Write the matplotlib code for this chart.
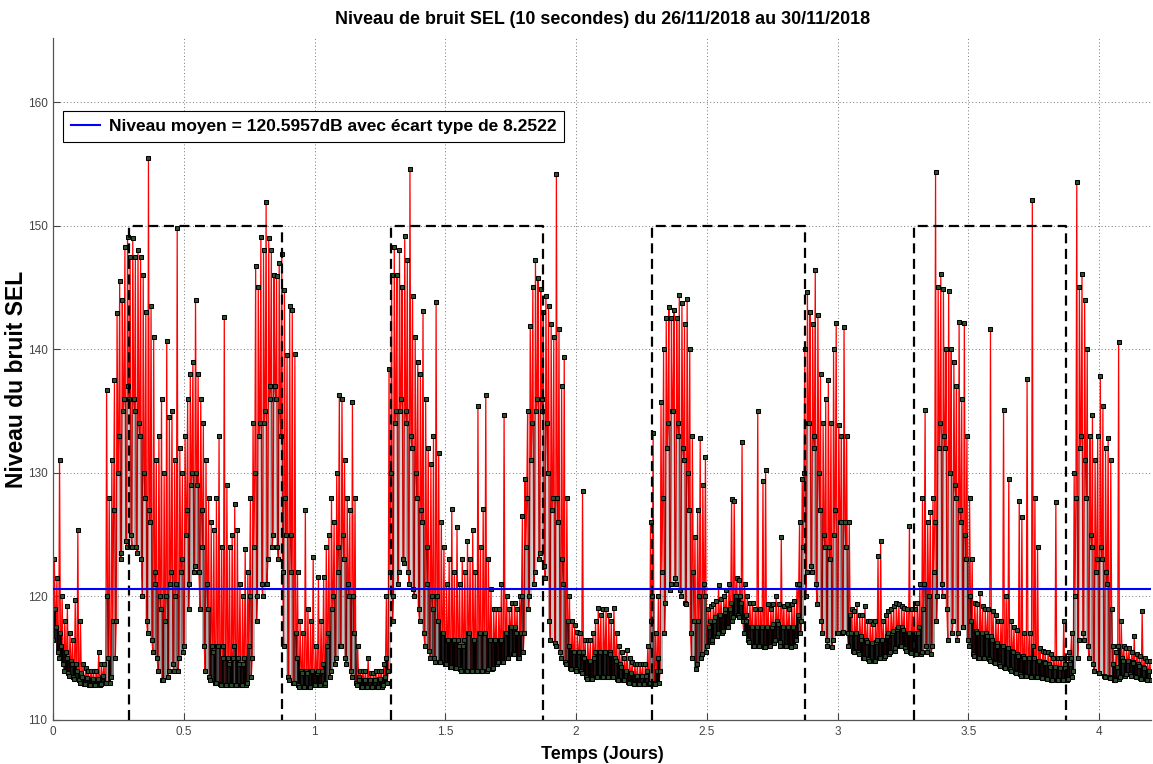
import numpy as np
import matplotlib
matplotlib.use("Agg")
import matplotlib.pyplot as plt
from matplotlib import font_manager
from matplotlib.collections import LineCollection

# ---------------- data (0.01-day bins) ----------------
bin_width_days = 0.01
# per bin: lowest, typical and highest SEL level (dB)
sel_low = [
    116.5,115.5,115,114.5,114,113.8,113.6,113.5,113.3,113.2,
    113,112.9,112.9,112.8,112.8,112.8,112.8,112.8,112.9,113,
    113,113,113.5,115,118,123,123.5,124.5,124,125,
    124,124,123.5,123,120,118,117,116.5,115.5,115,
    114,113.2,113.2,113.5,114,114.5,114,114,115,115.5,
    116,119,121,122,122.5,122,119,116,114,113.5,
    113.2,113,113,112.9,112.8,112.8,112.8,112.8,112.8,112.8,
    112.8,112.8,112.8,112.8,113,113.5,115,118,120,121,
    120,121,123,124,125,124,123,122,116,113.5,
    113.2,113,113,112.8,112.7,112.7,112.7,112.7,112.7,112.8,
    112.8,112.8,112.8,112.8,113,113.5,114,114.5,115,116,
    116,115,114.5,114,113.5,113,112.8,112.7,112.7,112.7,
    112.7,112.7,112.7,112.7,112.7,112.7,112.8,113,114,118,
    120,121,122,123,122.7,122,121,120.6,120,119,
    118,117,116,115.6,115,115,114.7,114.7,114.7,114.5,
    114.5,114.3,114.3,114.2,114.2,114.1,114,114,114,114,
    114,114,114,114,114,114,114.1,114.1,114.2,114.5,
    114.7,114.7,114.7,115,115,115.3,115.3,115,115,115.5,
    117,119,120,121,122,123,123.5,122.5,121.5,118,
    116.5,116.2,116,115.5,115,114.7,114.5,114.2,114.1,114.1,
    114,114,113.8,113.5,113.3,113.3,113.3,113.5,113.5,113.5,
    113.5,113.5,113.5,113.5,113.5,113.3,113.2,113.2,113.2,113.1,
    113,113,112.9,112.9,112.9,112.9,112.9,112.9,113,113,
    112.9,113,114,117,119.5,120.5,121,121.5,121,120.5,
    120,119.5,119.4,117,115,114.1,114.5,115,115.3,115.5,
    116,116.3,116.5,116.8,117,117,117.2,117.5,117.5,118,
    118.3,118.5,118.3,118,117,116.5,116.3,116,116,116,
    116,115.9,115.9,116,116,116.2,116.5,116.3,116,116,
    116,116,115.9,116,116.5,117,118,120,122,122.5,
    122,121,119.4,118,117,116.5,116,115.9,116.5,117,
    117,117,117.1,117,116,115.6,115.5,115.5,115.3,115,
    115,114.9,114.8,114.8,114.8,115,115,115,115.2,115.3,
    115.5,115.6,115.8,116,116,115.8,115.6,115.5,115.4,115.3,
    115.3,115.3,115.5,116,115.5,115.3,116,118,120,121,
    120,119,116.5,117,118,116.5,117,117.5,117.5,116.5,
    116,115.3,115.2,115,115,115,115,114.9,114.8,114.7,
    114.6,114.5,114.4,114.3,114.2,114.1,114,113.9,113.8,113.7,
    113.6,113.6,113.6,113.6,113.5,113.5,113.5,113.5,113.4,113.4,
    113.3,113.2,113.2,113.2,113.2,113.2,113.2,113.2,113.3,113.5,
    114,115,116.5,117,116.5,116,115,114.5,114,113.8,
    113.8,113.6,113.5,113.5,113.4,113.2,113.2,113.3,113.5,113.6,
    113.7,113.7,113.6,113.6,113.5,113.4,113.3,113.3,113.2,113.2,
]
sel_mid = [
    119,117.5,117,116,115.5,115,114.8,114.5,114.5,114,
    113.8,113.5,113.4,113.4,113.3,113.3,113.2,113.3,113.5,113.6,
    120,115,118,127,130,133,135,136,137,136,
    136,135,134,133,130,128,127,126,122,121,
    120,119,118,120,121,122,120,121,122,123,
    125,127,129,130,130,129,127,124,121,119,
    116,115.5,116,116,115,116,115,114.5,115,116,
    115,114.5,114.5,115,116,120,124,130,133,134,
    134,135,136,137,137,136,135,133,128,125,
    125,122,117,115,114,113.8,114,113.8,114,114,
    113.8,114,114,114.5,116,117,119,120,122,124,
    125,123,121,120,120,117,113.5,113.2,113.2,113.2,
    113.2,113.2,113.2,113.2,113.3,113.3,113.5,115,122,130,
    134,135,135,136,135,134,133,132,130,128,
    127,126,124,121,120,119,120,118,117,117,
    116.5,116.5,116.5,116.5,116.5,116,116,116.5,117,117,
    116.5,116.5,117,117,117,117,116.5,116.5,116.5,116.5,
    116.5,116.5,117,117,117.5,117.5,117.5,117,117,120,
    124,128,131,134,135,136,136,135,134,130,
    127,128,128,126,123,121,118,116,115.5,115.5,
    115.5,115.5,115.5,115,114.8,114.8,115,115.5,115.5,115.5,
    115.5,115.5,115.5,115.3,115,114.8,114.5,114.3,114,114,
    113.8,113.8,113.6,113.6,113.6,113.6,113.6,114,118,120,
    114,115,122,128,132,134,135,135,134,133,
    132,131,130,127,122,118,118,120,121,120,
    117.5,118,118,118.3,118.5,118.5,118.7,119,119,119.5,
    120,120,120,119.5,118.5,118,117.5,117.5,117.5,117.5,
    117.5,117.5,117.5,117.5,117.5,117.8,118,117.8,117.5,117.5,
    117.5,117.5,117.5,117.5,118.5,121,124,130,134,134,
    133,132,130,127,125,124,124,123,125,127,
    126,126,126,124,118.5,117,117,117,116.8,116.5,
    116.5,116.3,116.2,116.2,116.3,116.5,116.5,116.5,116.8,117,
    117,117.2,117.4,117.5,117.5,117.3,117,117,117,117,
    117,117.5,119,121,120,120,122,126,132,134,
    133,132,130,130,129,128,127,126,125,123,
    120,118,117.2,117,117,117,117,116.8,116.8,116.5,
    116.2,116,116,116,115.8,115.8,115.6,115.5,115.3,115.2,
    115.2,115,115,115,116,115,114.8,114.8,114.7,114.6,
    114.5,114.3,114.3,114.3,114.2,114.2,114.5,114.2,114.5,115,
    120,128,132,133,131,128,125,124,122,123,
    124,123,122,121,119,114.5,114.3,116,115,114.8,
    114.8,114.8,114.7,114.6,114.5,114.4,114.3,114.2,114,114,
]
sel_high = [
    123,121.5,131,120,118,119.2,117,116.5,119.7,125.4,
    118,114.5,114.2,114,114,114,114,115.5,114.5,114.5,
    136.7,128,131,137.5,142.9,145.5,144,148.3,149.1,147.5,
    149,147.5,148,147.5,146,143,155.5,143.5,141,131,
    133,136,130,140.7,134.5,135,131,149.8,132,130,
    133,136,138,139,144,138,136,134,131,128,
    126,125.4,128,133,124,142.6,129,124,125,127.5,
    125.4,121,120,123.8,122,128,134,146.7,145,149.1,
    148,151.9,149,148,146,145.9,147,147.7,144.8,139.5,
    143.5,143.2,139.6,122,118,117,127,119,118,123.2,
    116,121.6,118,121.6,124,125,128,126,130,136.3,
    136,131,128,127,135.7,128,116,114,114,114,
    115,113.8,113.8,114,114,114,114.5,120,138.4,146,
    148.3,146,148,145,149.2,147.2,154.6,144.3,141,139,
    138,143.1,136,132,130.7,133,143.8,131.6,126,124,
    121,123,127.1,122,125.6,121,123,122,124.5,123,
    125.4,122,135.4,124,127.1,136.3,123,120.6,119,119,
    119,121,134.7,120,119,119.5,119.5,119,120,126.5,
    129.5,135,141.9,145,147.2,145.8,144.9,143,144.3,143.5,
    142,141,154.2,141.6,137,139.4,128,120,118,117.7,
    117.1,117,128.5,116.5,116.5,116.5,117,118,119.1,118.5,
    119,119,118.5,118,119.1,117,116,115.5,115,115.7,
    115,114.7,114.5,114.5,114.5,114.5,114.5,116,126,133.2,
    117,120,135.7,140,142.5,143.4,142.5,143.2,142.5,144.4,
    143.7,142,144.1,140,133,124.8,127,132.8,129,131.3,
    119,119.2,119.4,119.6,120.9,119.8,120,120.5,121,127.9,
    127.7,121.5,121.3,132.5,121,120,119.5,119.5,119,135,
    119,129.3,130.2,119.4,119,119.4,120,119.4,124.8,119.2,
    119.4,119,119.4,119.6,121,126,129.5,140,144.6,143,
    142,146.4,142.8,138,134,136,137.5,134,140,142.1,
    133.9,133,141.8,133,126,119,118.8,119.4,118.5,118.5,
    119.2,118,118,117.8,118,123.3,124.5,118,118.5,118.8,
    119,119.2,119.5,119.4,119.2,119.1,119,125.7,119,119,
    119.5,121,128,135.1,126,126.8,128,154.3,145,146.1,
    144.9,140,144.7,140,139,137,142.2,136,142.1,133,
    128,123,119.5,119.4,120.3,119.2,119,119,141.6,118.8,
    118.5,118,118,135.1,120,129.5,118,117.5,117.3,127.7,
    126.4,117,137.6,117,152.1,128,124,115.8,115.6,115.5,
    115.5,115.3,115,127.6,115,115,118,115,115.5,117,
    130,153.5,145,146.1,144,140,133,134.7,131,133,
    137.8,135.4,132,132.8,131,116,115.5,140.6,118,116,
    115.8,115.8,115.5,116.8,115.3,115.2,118.8,115,114.8,114.8,
]

mean_level = "120.5957"
std_level = "8.2522"
day_numbers = [0, 1, 2, 3]
day_start_hour = 7
day_end_hour = 21
day_window_top = 150

title_text = "Niveau de bruit SEL (10 secondes) du 26/11/2018 au 30/11/2018"
xlabel_text = "Temps (Jours)"
ylabel_text = "Niveau du bruit SEL"
x_ticks = [0, 0.5, 1, 1.5, 2, 2.5, 3, 3.5, 4]
x_tick_labels = ["0", "0.5", "1", "1.5", "2", "2.5", "3", "3.5", "4"]
y_ticks = [110, 120, 130, 140, 150, 160]

# ---------------- build the series ----------------
low = np.array(sel_low)
mid = np.array(sel_mid)
high = np.array(sel_high)
n = len(low)
centers = (np.arange(n) + 0.5) * bin_width_days
offs = np.array([-0.33, 0.0, 0.33]) * bin_width_days
xs = (centers[:, None] + offs[None, :]).ravel()
vals = np.stack([low, high, mid], axis=1)
vals[1::2] = vals[1::2, ::-1]
ys = vals.ravel()

# ---------------- figure ----------------
avail = {f.name for f in font_manager.fontManager.ttflist}
fam = [f for f in ["Liberation Sans", "DejaVu Sans"] if f in avail]
plt.rcParams["font.family"] = fam

fig = plt.figure(figsize=(11.53, 7.64), dpi=100)
ax = fig.add_axes([53 / 1153, 44 / 764, (1151.3 - 53) / 1153, 682 / 764])

# red trace of the samples
ax.plot(xs, ys, color="red", lw=0.9, zorder=2)

# dense cloud of sample markers between the lowest and the typical level:
# the tighter the spread, the denser (darker) the cloud
spread = np.maximum(mid - low, 0.3)
density = np.clip(2.5 / spread, 0.08, 1.0)
segs = [[(c, lo), (c, mi)] for c, lo, mi in zip(centers, low, mid)]
cols = [(0.0, 0.0, 0.0, a) for a in density]
ax.add_collection(LineCollection(segs, colors=cols, linewidths=2.0,
                                 capstyle="butt", zorder=2.3))

ax.plot(xs, ys, ls="none", marker="s", ms=2.5,
        mfc="#2e4f2e", mec="black", mew=0.75, zorder=2.5)

for d in day_numbers:
    a = d + day_start_hour / 24
    b = d + day_end_hour / 24
    ax.plot([a, a, b, b], [110, day_window_top, day_window_top, 110],
            color="black", ls="--", lw=1.6, dashes=(4.5, 2.5), zorder=3)

mean_val = float(mean_level)
ax.axhline(mean_val, color="#0000ff", lw=1.5, zorder=4,
           label=f"Niveau moyen = {mean_level}dB avec écart type de {std_level}")

ax.set_xlim(0, 4.2)
ax.set_ylim(110, 165.18)
ax.set_xticks(x_ticks)
ax.set_xticklabels(x_tick_labels)
ax.set_yticks(y_ticks)
ax.tick_params(direction="in", length=5, width=0.8, colors="#444444",
               labelsize=8.5, pad=4)
ax.grid(True, linestyle=(0, (1, 2.5)), color="#777777", lw=0.7)
ax.set_axisbelow(True)
for s in ["top", "right"]:
    ax.spines[s].set_visible(False)
for s in ["left", "bottom"]:
    ax.spines[s].set_color("#555555")
    ax.spines[s].set_linewidth(0.9)

ax.set_title(title_text, fontsize=12.9, fontweight="bold", pad=10)
ax.set_xlabel(xlabel_text, fontsize=13, fontweight="bold", labelpad=6)
ax.set_ylabel(ylabel_text, fontsize=16.5, fontweight="bold", va="center")
ax.yaxis.set_label_coords(-36 / 1098.3, 0.5)

leg = ax.legend(loc="upper left", bbox_to_anchor=(0.009, 0.893),
                borderaxespad=0, fancybox=False, framealpha=1,
                edgecolor="black", handlelength=1.7, handletextpad=0.5,
                borderpad=0.45, prop={"weight": "bold", "size": 12.5})
leg.get_frame().set_linewidth(0.8)

fig.savefig("out.png", dpi=100)
